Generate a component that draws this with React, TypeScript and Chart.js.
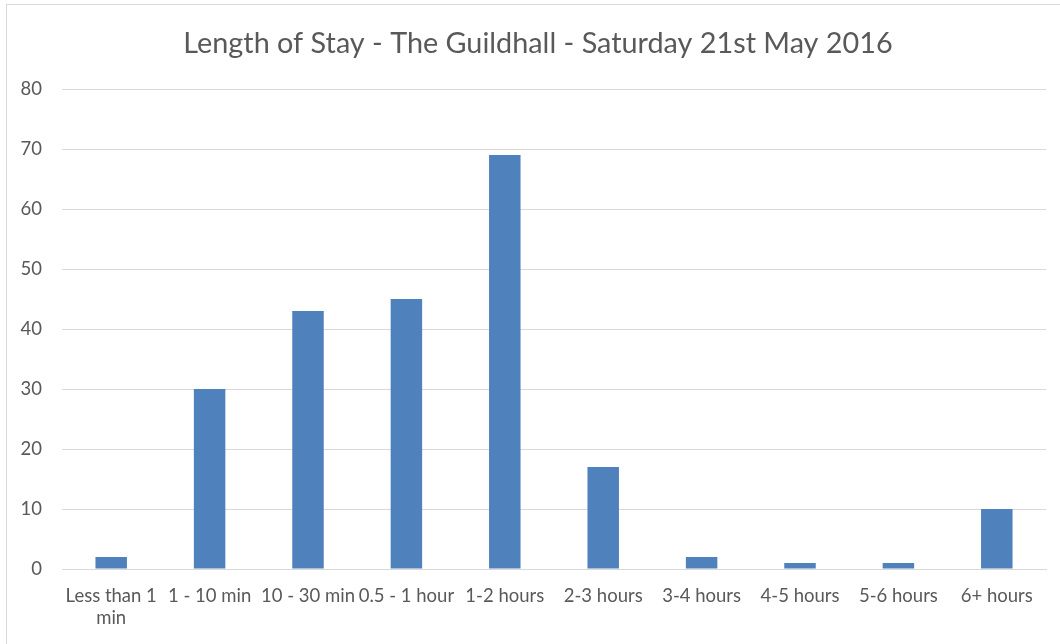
import React, { useEffect, useRef } from "react";
import { Chart, registerables } from "chart.js";

Chart.register(...registerables);

const chartTitle = "Length of Stay - The Guildhall - Saturday 21st May 2016";
const categories: (string | string[])[] = [
  ["Less than 1", "min"],
  "1 - 10 min",
  "10 - 30 min",
  "0.5 - 1 hour",
  "1-2 hours",
  "2-3 hours",
  "3-4 hours",
  "4-5 hours",
  "5-6 hours",
  "6+ hours",
];
const counts = [2, 30, 43, 45, 69, 17, 2, 1, 1, 10];
const yMin = 0;
const yMax = 80;
const yStep = 10;

const FONT = "Lato, 'Open Sans', sans-serif";
const TEXT = "#595959";

export default function App() {
  const ref = useRef<HTMLCanvasElement | null>(null);

  useEffect(() => {
    if (!ref.current) return;
    const chart = new Chart(ref.current, {
      type: "bar",
      data: {
        labels: categories,
        datasets: [
          {
            label: "Count",
            data: counts,
            backgroundColor: "#4F81BD",
            borderWidth: 0,
            categoryPercentage: 1,
            barPercentage: 0.32,
            yAxisID: "y",
          },
        ],
      },
      options: {
        animation: false,
        responsive: false,
        maintainAspectRatio: false,
        layout: { padding: { left: 16, right: 0, top: 0, bottom: 0 } },
        plugins: {
          legend: { display: false },
          tooltip: { enabled: false },
          title: {
            display: true,
            text: chartTitle,
            color: TEXT,
            font: { family: FONT, size: 28.8, weight: "normal" },
            padding: { top: 26.6, bottom: 27.84 },
          },
        },
        scales: {
          x: {
            grid: { display: false, drawTicks: false },
            border: { display: true, color: "#D9D9D9", width: 1 },
            ticks: {
              color: TEXT,
              font: { family: FONT, size: 18.5 },
              padding: 16,
              maxRotation: 0,
              minRotation: 0,
              autoSkip: false,
            },
            afterFit: (scale: any) => {
              scale.height = 75;
            },
          },
          y: {
            position: "left",
            min: yMin,
            max: yMax,
            grid: { color: "#D9D9D9", drawTicks: false, lineWidth: 1 },
            border: { display: false },
            ticks: {
              stepSize: yStep,
              color: TEXT,
              font: { family: FONT, size: 18.5 },
              padding: 20,
            },
            afterFit: (scale: any) => {
              scale.width = 46;
            },
          },
          yRight: {
            position: "right",
            min: yMin,
            max: yMax,
            grid: { display: false, drawTicks: false },
            border: { display: false },
            ticks: { display: false },
            afterFit: (scale: any) => {
              scale.width = 14;
            },
          },
        },
      },
    });
    return () => chart.destroy();
  }, []);

  return (
    <div
      style={{
        position: "absolute",
        left: 0,
        top: 0,
        width: 1060,
        height: 644,
        overflow: "hidden",
        background: "#fff",
      }}
    >
      <div
        style={{
          position: "absolute",
          left: 6,
          top: 4,
          width: 1200,
          height: 800,
          border: "1px solid #D9D9D9",
        }}
      />
      <canvas
        ref={ref}
        width={1060}
        height={644}
        style={{ position: "absolute", left: 0, top: 0, width: 1060, height: 644 }}
      />
    </div>
  );
}
